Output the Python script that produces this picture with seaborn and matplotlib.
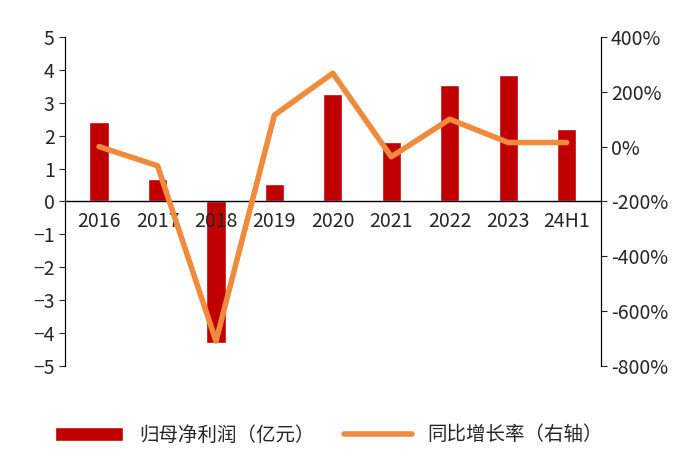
import matplotlib
matplotlib.use("Agg")
import matplotlib.pyplot as plt
import seaborn as sns
import pandas as pd
from matplotlib.ticker import FuncFormatter

sns.set_style("white")
plt.rcParams['font.family'] = ['Noto Sans CJK SC', 'DejaVu Sans']

years = ["2016", "2017", "2018", "2019", "2020", "2021", "2022", "2023", "24H1"]
profit = [2.42, 0.68, -4.3, 0.52, 3.26, 1.8, 3.54, 3.85, 2.2]
growth = [0, -70, -710, 115, 268, -37, 100, 15, 15]

df = pd.DataFrame({"year": years, "profit": profit, "growth": growth})

fig = plt.figure(figsize=(7, 4.63), dpi=100)
ax = fig.add_axes([0.093, 0.21, 0.765, 0.71])
sns.barplot(data=df, x="year", y="profit", color="#C00000", width=0.33, ax=ax,
            saturation=1, label="归母净利润（亿元）")
ax.set_ylim(-5, 5)
ax.set_yticks(range(-5, 6))
ax.set_xlabel(""); ax.set_ylabel("")
ax2 = ax.twinx()
sns.lineplot(data=df, x="year", y="growth", color="#F08A3C", linewidth=4, ax=ax2,
             label="同比增长率（右轴）", legend=False)
ax2.set_ylim(-800, 400)
ax2.set_yticks(range(-800, 401, 200))
ax2.yaxis.set_major_formatter(FuncFormatter(lambda v, p: f"{int(v)}%"))
ax2.set_ylabel("")
for a in (ax, ax2):
    for s in ("top", "bottom"):
        a.spines[s].set_visible(False)
    a.spines["left"].set_color("black")
    a.spines["right"].set_color("black")
    a.tick_params(labelsize=14, length=4, direction="out")
ax.tick_params(axis="y", left=True)
ax2.tick_params(axis="y", right=True)
ax.axhline(0, color="black", linewidth=1)
ax.tick_params(axis="x", bottom=False)
ax.set_xticks(range(len(years)))
ax.set_xticklabels([])
for i, y in enumerate(years):
    ax.text(i, -0.6, y, ha="center", va="center", fontsize=14)
h1, l1 = ax.get_legend_handles_labels()
h2, l2 = ax2.get_legend_handles_labels()
if ax.get_legend() is not None:
    ax.get_legend().remove()
fig.legend(h1 + h2, l1 + l2, loc="lower center", ncol=2, frameon=False,
           fontsize=14, bbox_to_anchor=(0.47, 0.0), handlelength=3.5, columnspacing=1.5)
fig.savefig("out.png", dpi=100)
